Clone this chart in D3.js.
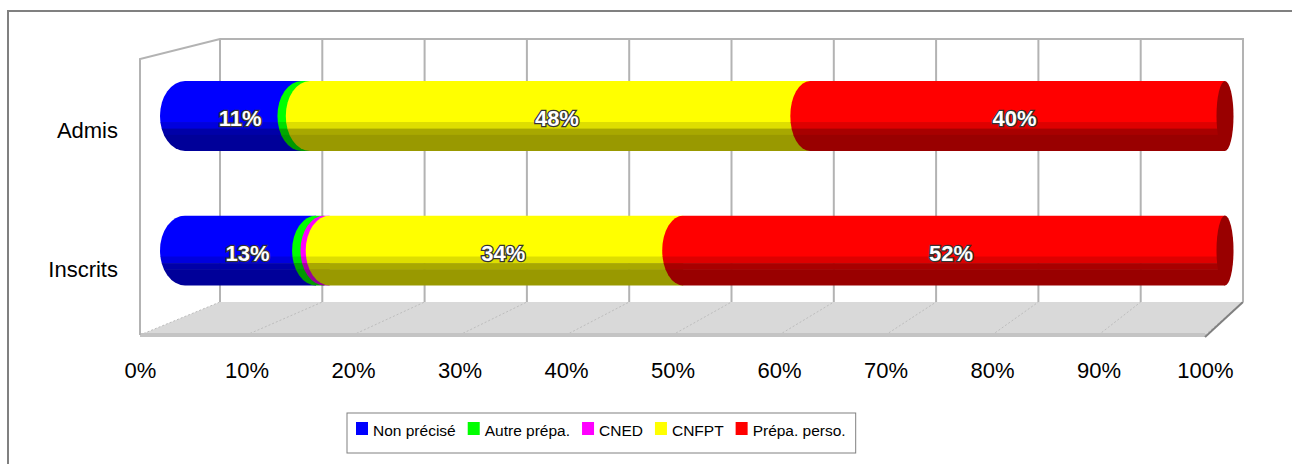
<html>

<head>
    <script src="https://d3js.org/d3.v7.min.js"></script>
    <style>
        body { margin: 0; background: #fff; }
        text { font-family: "Liberation Sans", Arial, sans-serif; }
    </style>
</head>

<body>

    <svg id="svgMain" width="1292" height="464"></svg>

    <script id="scriptMain">

        // data
        const categories = ["Admis", "Inscrits"];
        const seriesNames = ["Non précisé", "Autre prépa.", "CNED", "CNFPT", "Prépa. perso."];
        const seriesColors = ["#0000ff", "#00ff00", "#ff00ff", "#ffff00", "#ff0000"];
        const admisValues = [11.2, 0.8, 0, 48.1, 39.9];
        const inscritsValues = [12.6, 0.8, 0.5, 34.0, 52.1];
        const xTicks = [0, 10, 20, 30, 40, 50, 60, 70, 80, 90, 100];

        const valuesByCategory = { "Admis": admisValues, "Inscrits": inscritsValues };

        const svg = d3.select("#svgMain");

        // scales (perspective: floor front, back wall, bars)
        const xFront = d3.scaleLinear().domain([0, 100]).range([140, 1205]);
        const xBack = d3.scaleLinear().domain([0, 100]).range([220, 1243]);
        const x = d3.scaleLinear().domain([0, 100]).range([185, 1225]);
        const y = d3.scalePoint().domain(categories).range([116, 250.5]);
        const yLabel = d3.scalePoint().domain(categories).range([138, 277]);
        // ellipse half-width of the cylinder ends changes along x
        const rxScale = d3.scaleLinear().domain([185, 800, 1225]).range([25, 20, 8.5]);
        const barH = 70;

        const wallTop = 39, wallBottom = 302, floorFront = 335, sideTop = 59;
        const gridColor = "#b3b3b3";

        // outer frame
        svg.append("rect")
            .attr("x", 8).attr("y", 11)
            .attr("width", 1320).attr("height", 520)
            .attr("fill", "none")
            .attr("stroke", "#808080")
            .attr("stroke-width", 2);

        // floor
        svg.append("path")
            .attr("d", `M${xFront(0)},${floorFront} L${xFront(100)},${floorFront} L${xBack(100)},${wallBottom} L${xBack(0)},${wallBottom} Z`)
            .attr("fill", "#d9d9d9");

        svg.append("g")
            .selectAll("line")
            .data(xTicks)
            .join("line")
            .attr("x1", d => xFront(d)).attr("y1", floorFront)
            .attr("x2", d => xBack(d)).attr("y2", wallBottom)
            .attr("stroke", "#bdbdbd")
            .attr("stroke-width", 1)
            .attr("stroke-dasharray", "2,2");

        svg.append("rect")
            .attr("x", xFront(0)).attr("y", floorFront - 2)
            .attr("width", xFront(100) - xFront(0)).attr("height", 4)
            .attr("fill", "#c4c4c4");

        svg.append("line")
            .attr("x1", xFront(100)).attr("y1", floorFront + 2)
            .attr("x2", xBack(100)).attr("y2", wallBottom)
            .attr("stroke", "#808080")
            .attr("stroke-width", 2);

        // walls
        svg.append("path")
            .attr("d", `M${xFront(0)},${floorFront} L${xFront(0)},${sideTop} L${xBack(0)},${wallTop} L${xBack(100)},${wallTop} L${xBack(100)},${wallBottom}`)
            .attr("fill", "none")
            .attr("stroke", gridColor)
            .attr("stroke-width", 2);

        svg.append("g")
            .selectAll("line")
            .data(xTicks.slice(0, -1))
            .join("line")
            .attr("x1", d => xBack(d)).attr("y1", wallTop)
            .attr("x2", d => xBack(d)).attr("y2", wallBottom)
            .attr("stroke", gridColor)
            .attr("stroke-width", 2);

        // x axis labels
        const xAxis = svg.append("g")
            .attr("transform", "translate(0,378)")
            .call(d3.axisBottom(xFront).tickValues(xTicks).tickFormat(d => d + "%").tickSize(0));
        xAxis.select(".domain").remove();
        xAxis.selectAll("text")
            .attr("y", 0).attr("dy", 0)
            .attr("font-size", 22)
            .attr("font-family", "Liberation Sans, Arial, sans-serif")
            .attr("fill", "#000");

        // y labels
        svg.append("g")
            .selectAll("text")
            .data(categories)
            .join("text")
            .attr("x", 118)
            .attr("y", d => yLabel(d))
            .attr("text-anchor", "end")
            .attr("font-size", 22)
            .text(d => d);

        // cylinders
        const shade = (c, k) => {
            const col = d3.rgb(c);
            return d3.rgb(col.r * k, col.g * k, col.b * k).formatHex();
        };
        const bandStops = [0, 0.586, 0.68, 0.77, 1];
        const bandShade = [1, 0.87, 0.66, 0.6];

        const defs = svg.append("defs");
        const bars = svg.append("g");
        const labels = [];

        categories.forEach((cat, ci) => {
            const vals = valuesByCategory[cat];
            const top = y(cat) - barH / 2;
            const bottom = y(cat) + barH / 2;
            let cum = 0;
            let lastColor = null;
            vals.forEach((v, si) => {
                if (v <= 0) return;
                const x0 = x(cum), x1 = x(cum + v);
                const rx0 = rxScale(x0);
                const id = "clip" + ci + "_" + si;
                defs.append("clipPath").attr("id", id)
                    .append("path")
                    .attr("d", `M${x0},${top} A${rx0},${barH / 2} 0 0 0 ${x0},${bottom} L${x1},${bottom} L${x1},${top} Z`);
                const seg = bars.append("g").attr("clip-path", `url(#${id})`);
                seg.selectAll("rect")
                    .data(bandShade)
                    .join("rect")
                    .attr("x", x0 - rx0 - 1)
                    .attr("width", x1 - x0 + rx0 + 2)
                    .attr("y", (d, i) => top + bandStops[i] * barH)
                    .attr("height", (d, i) => (bandStops[i + 1] - bandStops[i]) * barH + 0.5)
                    .attr("fill", d => shade(seriesColors[si], d));
                if (v >= 5) {
                    labels.push({ x: (x0 + x1) / 2 - 3, y: y(cat), text: Math.round(v) + "%" });
                }
                cum += v;
                lastColor = seriesColors[si];
            });
            // end cap
            const xe = x(cum);
            bars.append("ellipse")
                .attr("cx", xe).attr("cy", y(cat))
                .attr("rx", rxScale(xe)).attr("ry", barH / 2)
                .attr("fill", shade(lastColor, 0.6));
        });

        svg.append("g")
            .selectAll("text")
            .data(labels)
            .join("text")
            .attr("x", d => d.x)
            .attr("y", d => d.y + 10)
            .attr("text-anchor", "middle")
            .attr("font-size", 22)
            .attr("font-weight", "bold")
            .attr("fill", "#fff")
            .attr("stroke", "#333")
            .attr("stroke-width", 2.5)
            .attr("paint-order", "stroke")
            .text(d => d.text);

        // legend
        const legend = svg.append("g");
        const legendBox = legend.append("rect")
            .attr("x", 347).attr("y", 413)
            .attr("height", 40)
            .attr("fill", "#fff")
            .attr("stroke", "#808080")
            .attr("stroke-width", 1);

        let lx = 356;
        seriesNames.forEach((name, i) => {
            legend.append("rect")
                .attr("x", lx).attr("y", 422)
                .attr("width", 12).attr("height", 13)
                .attr("fill", seriesColors[i]);
            const t = legend.append("text")
                .attr("x", lx + 17).attr("y", 436)
                .attr("font-size", 15.5)
                .text(name);
            lx += 17 + t.node().getComputedTextLength() + 12;
        });
        legendBox.attr("width", lx - 12 + 10 - 347);

    </script>

</body>

</html>
